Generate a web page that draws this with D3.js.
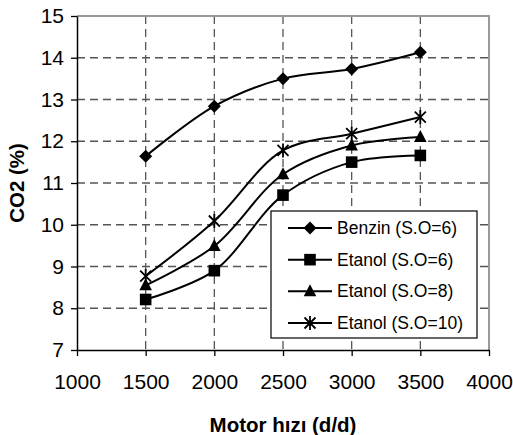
<!DOCTYPE html>
<html>
<head>
<meta charset="utf-8">
<script src="https://cdn.jsdelivr.net/npm/d3@7"></script>
<style>
  body { margin: 0; background: #fff; }
  text { font-family: "Liberation Sans", Arial, sans-serif; fill: #000; }
</style>
</head>
<body>
<svg id="chart" width="513" height="435"></svg>
<script>
// data
const speeds = [1500, 2000, 2500, 3000, 3500];
const benzin6 = [11.64, 12.84, 13.5, 13.73, 14.13];
const etanol6 = [8.21, 8.9, 10.71, 11.5, 11.66];
const etanol8 = [8.55, 9.49, 11.21, 11.9, 12.1];
const etanol10 = [8.77, 10.09, 11.78, 12.18, 12.58];
const seriesNames = ["Benzin (S.O=6)", "Etanol (S.O=6)", "Etanol (S.O=8)", "Etanol (S.O=10)"];
const markerTypes = ["diamond", "square", "triangle", "star"];
const xTicks = [1000, 1500, 2000, 2500, 3000, 3500, 4000];
const yTicks = [7, 8, 9, 10, 11, 12, 13, 14, 15];

const margin = { top: 16, right: 24, bottom: 85, left: 77 };
const W = 513, H = 435;
const width = W - margin.left - margin.right;
const height = H - margin.top - margin.bottom;

const svg = d3.select("#chart");
const g = svg.append("g").attr("transform", `translate(${margin.left},${margin.top})`);

const x = d3.scaleLinear().domain([1000, 4000]).range([0, width]);
const y = d3.scaleLinear().domain([7, 15]).range([height, 0]);

// dashed grid
g.selectAll(".hgrid").data(yTicks.slice(1, -1)).join("line")
  .attr("x1", 0).attr("x2", width)
  .attr("y1", d => y(d)).attr("y2", d => y(d))
  .attr("stroke", "#555").attr("stroke-width", 1.3).attr("stroke-dasharray", "8,5");
g.selectAll(".vgrid").data(xTicks.slice(1, -1)).join("line")
  .attr("x1", d => x(d)).attr("x2", d => x(d))
  .attr("y1", 0).attr("y2", height)
  .attr("stroke", "#555").attr("stroke-width", 1.3).attr("stroke-dasharray", "8,5");

// grey frame top / right
g.append("path")
  .attr("d", `M0,0H${width}V${height}`)
  .attr("fill", "none").attr("stroke", "#999").attr("stroke-width", 2);

// axes
const xAxis = d3.axisBottom(x).tickValues(xTicks).tickFormat(d3.format("d"))
  .tickSize(6).tickSizeOuter(0).tickPadding(18);
const yAxis = d3.axisLeft(y).tickValues(yTicks).tickFormat(d3.format("d"))
  .tickSize(6).tickSizeOuter(0).tickPadding(7);

const xg = g.append("g").attr("transform", `translate(0,${height})`).call(xAxis);
const yg = g.append("g").call(yAxis);
[xg, yg].forEach(a => {
  a.attr("font-size", null).attr("font-family", null);
  a.select(".domain").attr("stroke", "#000").attr("stroke-width", 1.5);
  a.selectAll(".tick line").attr("stroke", "#000").attr("stroke-width", 1.3);
  a.selectAll(".tick text").style("font-size", "21px").attr("fill", "#000");
});

// axis titles
svg.append("text")
  .attr("x", margin.left + width / 2).attr("y", 432)
  .attr("text-anchor", "middle").attr("font-weight", "bold").style("font-size", "20.5px")
  .text("Motor hızı (d/d)");
svg.append("text")
  .attr("transform", `translate(24,${margin.top + height / 2}) rotate(-90)`)
  .attr("text-anchor", "middle").attr("font-weight", "bold").style("font-size", "20.5px")
  .text("CO2 (%)");

// markers
function drawMarker(sel, type) {
  if (type === "diamond") {
    sel.append("path").attr("d", "M0,-6.5L6.5,0L0,6.5L-6.5,0Z").attr("fill", "#000");
  } else if (type === "square") {
    sel.append("rect").attr("x", -5.8).attr("y", -5.8).attr("width", 11.6).attr("height", 11.6).attr("fill", "#000");
  } else if (type === "triangle") {
    sel.append("path").attr("d", "M0,-7L6.3,5L-6.3,5Z").attr("fill", "#000");
  } else {
    sel.append("path").attr("d", "M-5.5,-5.5L5.5,5.5M-5.5,5.5L5.5,-5.5M0,-7V7")
      .attr("stroke", "#000").attr("stroke-width", 1.8).attr("fill", "none");
  }
}

const allSeries = [benzin6, etanol6, etanol8, etanol10];
const line = d3.line()
  .x(d => x(d[0]))
  .y(d => y(d[1]))
  .curve(d3.curveCatmullRom.alpha(0.5));

allSeries.forEach((vals, i) => {
  const pts = speeds.map((s, j) => [s, vals[j]]);
  g.append("path").datum(pts)
    .attr("d", line).attr("fill", "none")
    .attr("stroke", "#000").attr("stroke-width", 2);
  pts.forEach(p => {
    const m = g.append("g").attr("transform", `translate(${x(p[0])},${y(p[1])})`);
    drawMarker(m, markerTypes[i]);
  });
});

// legend
const legend = svg.append("g").attr("transform", "translate(271,211)");
legend.append("rect")
  .attr("width", 206).attr("height", 127)
  .attr("fill", "#fff").attr("stroke", "#000").attr("stroke-width", 1.2);
const rowY = d3.scalePoint().domain(seriesNames).range([17, 112]);
seriesNames.forEach((name, i) => {
  const row = legend.append("g").attr("transform", `translate(0,${rowY(name)})`);
  row.append("line").attr("x1", 17).attr("x2", 61).attr("stroke", "#000").attr("stroke-width", 2);
  drawMarker(row.append("g").attr("transform", "translate(39,0)"), markerTypes[i]);
  row.append("text").attr("x", 66).attr("dy", "0.35em")
    .style("font-size", "17.5px").text(name);
});
</script>
</body>
</html>
